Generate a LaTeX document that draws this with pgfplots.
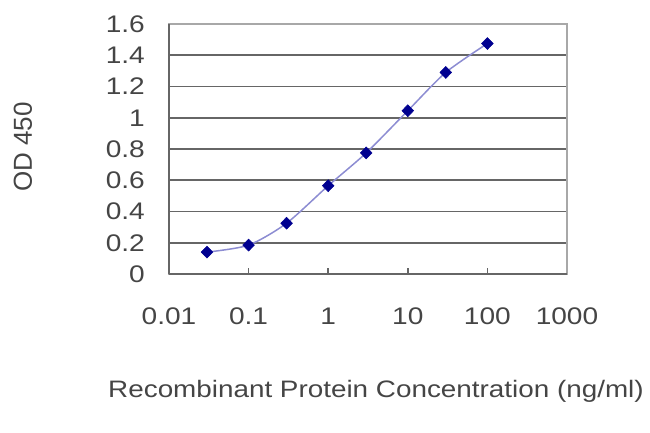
\documentclass[border=0pt]{standalone}
\usepackage{pgfplots}
\pgfplotsset{compat=1.18}
\usepackage{fontspec}
\setmainfont{Liberation Sans}[FakeStretch=1.17]
\newfontfamily\plainfont{Liberation Sans}
\definecolor{txt}{HTML}{454545}
\definecolor{grid}{HTML}{666666}
\definecolor{frame}{HTML}{A8A8A8}
\definecolor{curve}{HTML}{8C8CD2}
\definecolor{navy}{HTML}{000090}
\begin{document}
\begin{tikzpicture}
\useasboundingbox (-169pt,-159pt) rectangle (481pt,274pt);
\begin{axis}[
  scale only axis, width=398pt, height=250pt,
  at={(0pt,0pt)}, anchor=south west,
  xmode=log, xmin=0.01, xmax=1000, ymin=0, ymax=1.6,
  xtick={0.01,0.1,1,10,100,1000},
  xticklabels={0.01,0.1,1,10,100,1000},
  xminorticks=false,
  ytick={0,0.2,0.4,0.6,0.8,1,1.2,1.4,1.6},
  yticklabels={0,0.2,0.4,0.6,0.8,1,1.2,1.4,1.6},
  /pgf/number format/assume math mode=true,
  axis line style={draw=frame, line width=1.3pt},
  ymajorgrids, grid style={draw=grid, line width=1.8pt},
  xtick pos=bottom, ytick pos=left,
  tick align=inside,
  xtick style={draw=grid, line width=1.5pt},
  major tick length=6pt,
  ytick style={draw=none},
  ticklabel style={font=\fontsize{24}{24}\selectfont, text=txt, inner sep=0pt},
  xticklabel style={anchor=base, yshift=-50pt},
  yticklabel style={anchor=east, xshift=-24pt},
  clip=false,
]
\draw[draw=grid, line width=1.8pt] (rel axis cs:0,0) -- (rel axis cs:0,1);
\draw[draw=grid, line width=1.8pt] (rel axis cs:0,0) -- (rel axis cs:1,0);
\addplot[curve, line width=1.5pt, smooth, tension=0.45,
  mark=diamond*, mark size=6pt, mark options={xscale=1.3, fill=navy, draw=navy, line width=0.5pt}]
  coordinates {
  (0.03,0.14) (0.1,0.185) (0.3,0.325) (1,0.565) (3,0.775) (10,1.045) (30,1.29) (100,1.475)
  };
\end{axis}
\node[rotate=90, anchor=base, text=txt, inner sep=0pt, font=\plainfont\fontsize{26}{26}\selectfont] at (-137pt,127pt) {OD 450};
\node[anchor=base, text=txt, inner sep=0pt, font=\fontsize{23.8}{23.8}\selectfont] at (207pt,-123pt) {Recombinant Protein Concentration (ng/ml)};
\end{tikzpicture}
\end{document}
